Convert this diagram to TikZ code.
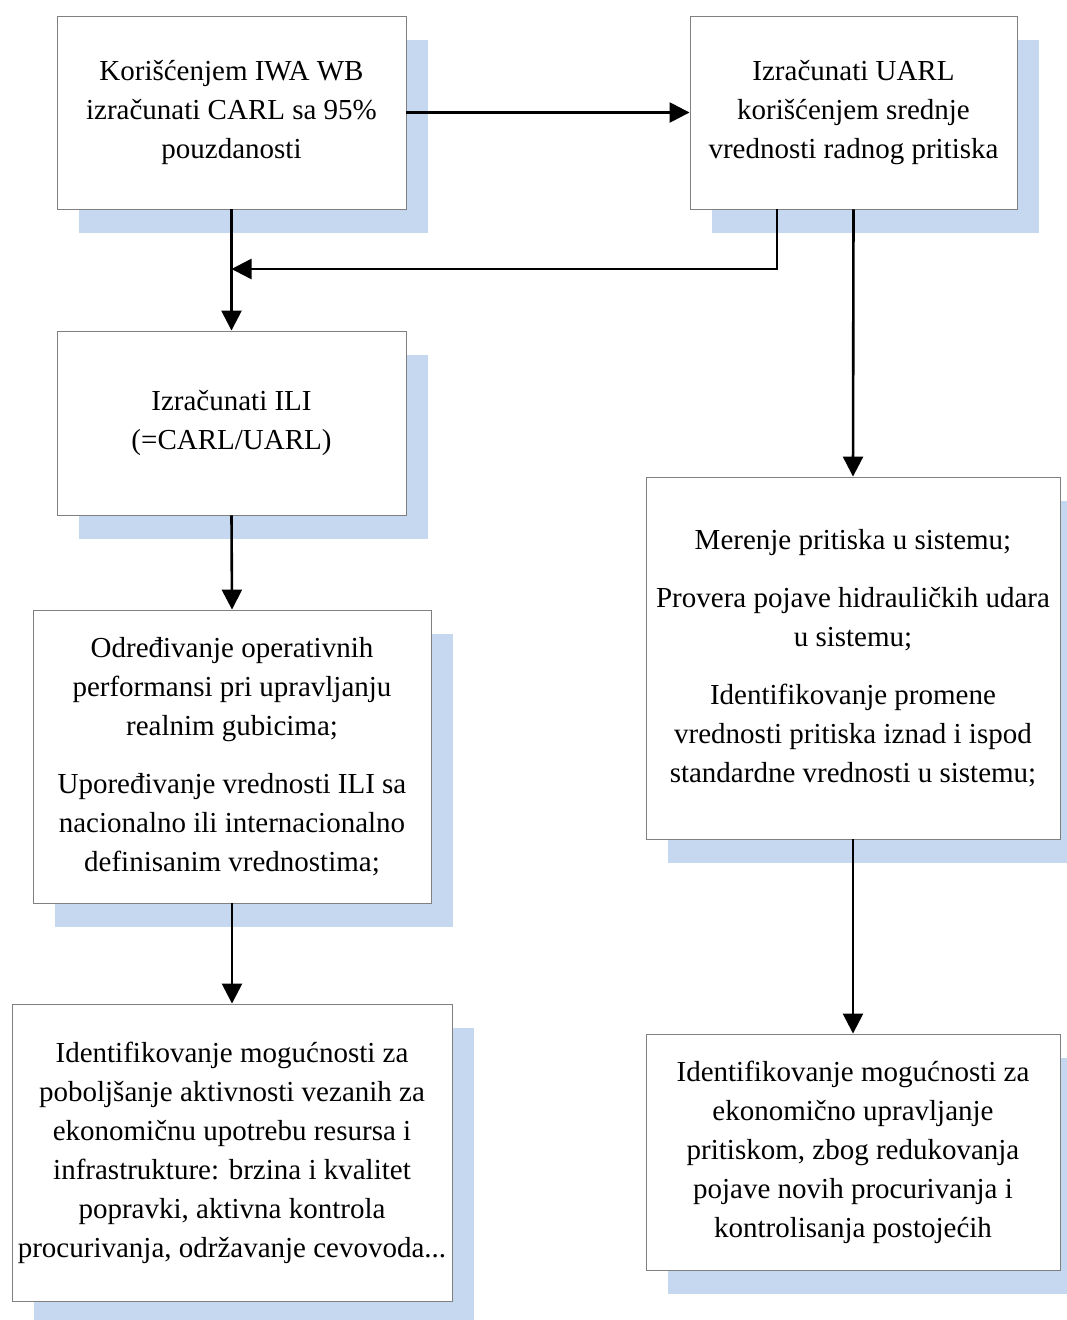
\documentclass[tikz,border=0pt]{standalone}
\usepackage{fontspec}
\setmainfont{Liberation Serif}
\usetikzlibrary{arrows.meta,shadows}
\definecolor{shadowblue}{RGB}{197,216,240}
\definecolor{boxline}{RGB}{128,128,128}
\begin{document}
\begin{tikzpicture}[x=1pt,y=-1pt,
  stepbox/.style={draw=boxline,line width=0.9pt,fill=white,inner sep=0pt,
    align=center,font=\fontsize{29}{39}\selectfont,
    drop shadow={shadow xshift=22pt,shadow yshift=-24pt,fill=shadowblue,opacity=1}},
  arr/.style={line width=2.6pt,-{Triangle[length=20pt,width=20pt]}},
  ln/.style={line width=2.6pt}]
\clip (0,0) rectangle (1067,1320);
\fill[white] (0,0) rectangle (1067,1320);

\node[stepbox,minimum width=349pt,minimum height=193pt] (b1) at (231.5,112.5)
  {Korišćenjem IWA WB\\izračunati CARL sa 95\%\\pouzdanosti};
\node[stepbox,minimum width=327pt,minimum height=193pt] (b2) at (853.5,112.5)
  {Izračunati UARL\\korišćenjem srednje\\vrednosti radnog pritiska};
\node[stepbox,minimum width=349pt,minimum height=184pt] (b3) at (231.5,423)
  {Izračunati ILI\\(=CARL/UARL)};
\node[stepbox,minimum width=398pt,minimum height=293pt] (b4) at (232,756.5)
  {Određivanje operativnih\\performansi pri upravljanju\\realnim gubicima;\\[19pt]
   Upoređivanje vrednosti ILI sa\\nacionalno ili internacionalno\\definisanim vrednostima;};
\node[stepbox,minimum width=440pt,minimum height=297pt] (b5) at (232,1152.5)
  {Identifikovanje mogućnosti za\\poboljšanje aktivnosti vezanih za\\ekonomičnu upotrebu resursa i\\infrastrukture: brzina i kvalitet\\popravki, aktivna kontrola\\procurivanja, održavanje cevovoda...};
\node[stepbox,minimum width=414pt,minimum height=362pt] (b6) at (853,658)
  {Merenje pritiska u sistemu;\\[19pt]
   Provera pojave hidrauličkih udara\\u sistemu;\\[19pt]
   Identifikovanje promene\\vrednosti pritiska iznad i ispod\\standardne vrednosti u sistemu;};
\node[stepbox,minimum width=414pt,minimum height=236pt] (b7) at (853,1152)
  {Identifikovanje mogućnosti za\\ekonomično upravljanje\\pritiskom, zbog redukovanja\\pojave novih procurivanja i\\kontrolisanja postojećih};

% connectors
\coordinate (j) at (231.5,269);
\draw[arr] (b1.east) -- (b2.west);
\draw[arr] (b1.south) -- (b3.north);
\draw[arr] ([xshift=-76.5pt]b2.south) |- (j);
\draw[arr] (b2.south) -- (b6.north);
\draw[arr] (b3.south) -- (b4.north);
\draw[arr] (b4.south) -- (b5.north);
\draw[arr] (b6.south) -- (b7.north);
\end{tikzpicture}
\end{document}
